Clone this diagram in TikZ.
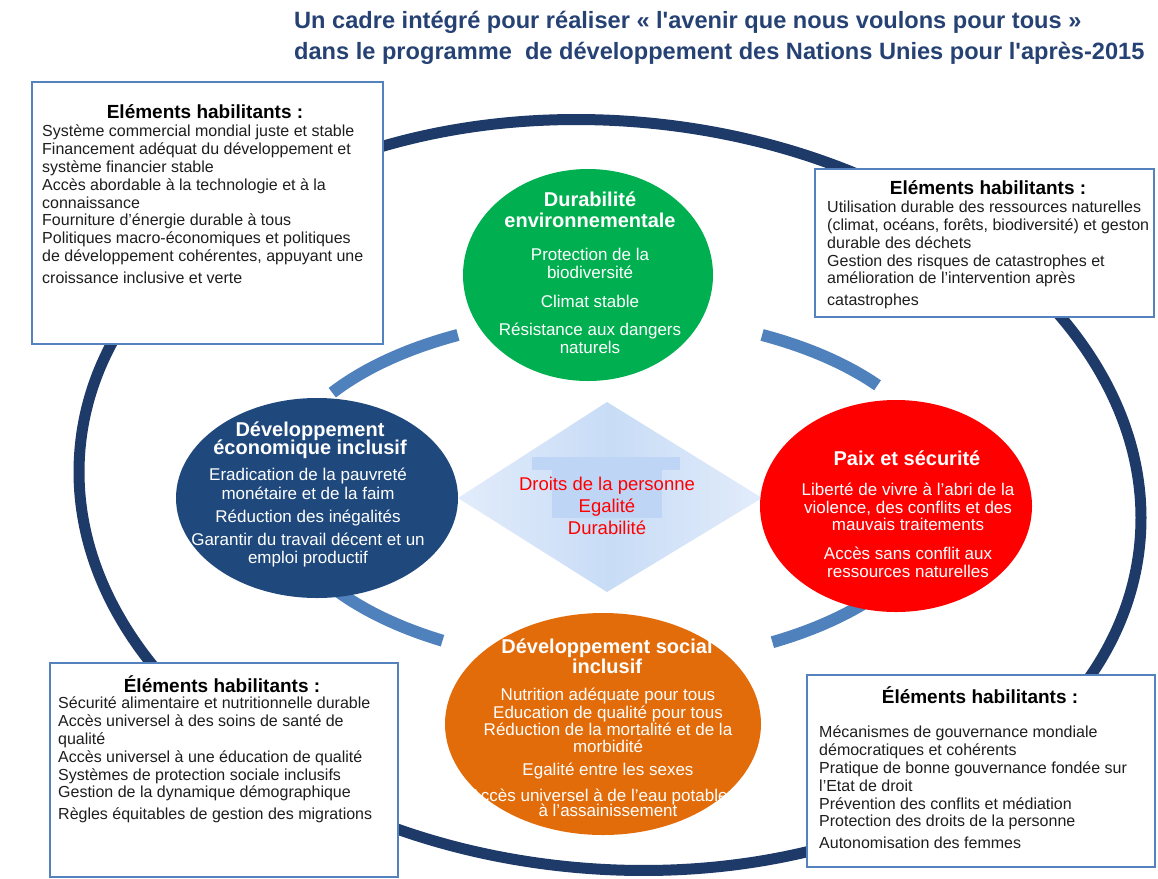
\documentclass[tikz,border=0pt]{standalone}
\usepackage{fontspec}
\setmainfont{Liberation Sans}
\newfontfamily\titrefont{Liberation Sans}
\usetikzlibrary{positioning}
\usetikzlibrary{shapes.geometric}

\definecolor{ringnavy}{RGB}{30,58,104}
\definecolor{arcblue}{RGB}{79,129,189}
\definecolor{boxblue}{RGB}{84,130,190}
\definecolor{boxtext}{RGB}{30,30,30}
\definecolor{titleblue}{RGB}{38,66,116}
\definecolor{envgreen}{RGB}{0,176,80}
\definecolor{econavy}{RGB}{31,73,125}
\definecolor{peacered}{RGB}{255,0,0}
\definecolor{socorange}{RGB}{227,108,10}
\definecolor{diamondblue}{RGB}{200,220,246}
\definecolor{diamondpale}{RGB}{226,236,251}
\definecolor{diamondmid}{RGB}{191,213,246}

\begin{document}
\begin{tikzpicture}[x=1pt, y=-1pt,
  habbox/.style={draw=boxblue, line width=2pt, fill=white},
  habtitle/.style={font=\fontsize{19}{21}\selectfont\bfseries, inner sep=0},
  habtext/.style={font=\fontsize{16}{17.8}\selectfont, text=boxtext, align=left, anchor=north west, inner sep=0},
  pilier/.style={ellipse, inner sep=0},
  piltitle/.style={font=\fontsize{20}{21}\selectfont\bfseries, text=white, align=center, anchor=north, inner sep=0},
  piltext/.style={font=\fontsize{17}{17.5}\selectfont, text=white, align=center, anchor=north, inner sep=0}]

\useasboundingbox (0,0) rectangle (1158,878);
\fill[white] (0,0) rectangle (1158,878);

% title
\node[font=\titrefont\fontsize{23.6}{31}\selectfont\bfseries, text=titleblue, align=left, anchor=north west, inner sep=0] (titre) at (294,11)
{Un cadre intégré pour réaliser « l'avenir que nous voulons pour tous »\\
dans le programme\ \ de développement des Nations Unies pour l'après-2015};

% outer ring
\draw[ringnavy, line width=11pt, rotate around={-5:(610,495)}] (610,495) ellipse [x radius=532, y radius=374];

% inner ring pieces
{
\draw[arcblue, line width=12pt] (610,490) ++(214:335 and 174) arc[start angle=214, end angle=243, x radius=335, y radius=174];
\draw[arcblue, line width=12pt] (610,490) ++(297:335 and 174) arc[start angle=297, end angle=323, x radius=335, y radius=174];
\draw[arcblue, line width=12pt] (610,490) ++(120:335 and 174) arc[start angle=120, end angle=146, x radius=335, y radius=174];
\draw[arcblue, line width=12pt] (610,490) ++(35:335 and 174) arc[start angle=35, end angle=61, x radius=335, y radius=174];
}

% centre diamond
\shade[left color=diamondpale, right color=diamondpale, middle color=diamondblue] (458,498) -- (607,402) -- (762,498) -- (607,592) -- cycle;
\fill[diamondmid] (532,457) rectangle (680,470);
\fill[diamondmid] (552,470) rectangle (662,518);

\node[font=\fontsize{18.5}{22}\selectfont, text=peacered, align=center, anchor=north, inner sep=0] (valeurs) at (607,477)
{Droits de la personne\\ Egalité\\ Durabilité};

% the four pillars
\node[pilier, fill=envgreen, minimum width=250, minimum height=212] (env) at (588,275) {};
\node[pilier, fill=econavy, minimum width=282, minimum height=200] (eco) at (317,498) {};
\node[pilier, fill=peacered, minimum width=272, minimum height=212] (paix) at (896,506) {};
\node[pilier, fill=socorange, minimum width=316, minimum height=222] (soc) at (603,724) {};

\node[piltitle] (env title) at (590,192) {Durabilité\\ environnementale};
\node[piltext] (env items) at (590,248) {Protection de la\\ biodiversité\\[12pt] Climat stable\\[10.5pt] Résistance aux dangers\\ naturels};

\node[piltitle] (eco title) at (310,422) {Développement\\[-3pt] économique inclusif};
\node[piltext, font=\fontsize{17}{18.5}\selectfont] (eco items) at (308,468) {Eradication de la pauvreté\\ monétaire et de la faim\\[4.5pt] Réduction des inégalités\\[4.5pt] Garantir du travail décent et un\\ emploi productif};

\node[piltitle, anchor=center] (paix title) at (907,458) {Paix et sécurité};
\node[piltext] (paix items) at (908,483) {Liberté de vivre à l'abri de la\\ violence, des conflits et des\\ mauvais traitements\\[11.5pt] Accès sans conflit aux\\ ressources naturelles};

\node[piltitle, font=\fontsize{20}{20}\selectfont\bfseries] (soc title) at (607,639) {Développement social\\ inclusif};
\node[piltext, font=\fontsize{17}{17.3}\selectfont] (soc items) at (608,688) {Nutrition adéquate pour tous\\ Education de qualité pour tous\\ Réduction de la mortalité et de la\\ morbidité\\[6pt] Egalité entre les sexes\\[8pt] Accès universel à de l'eau potable et\\[-2pt] à l'assainissement};

% enabling elements boxes
{
\draw[habbox] (32,82) rectangle (383,344);
\node[habtitle] (hg title) at (205,112) {Eléments habilitants :};
\node[habtext] (hg items) at (42,125) {Système commercial mondial juste et stable\\ Financement adéquat du développement et\\ système financier stable\\ Accès abordable à la technologie et à la\\ connaissance\\ Fourniture d’énergie durable à tous\\ Politiques macro-économiques et politiques\\ de développement cohérentes, appuyant une\\[4pt] croissance inclusive et verte};

\draw[habbox] (815,169) rectangle (1154,317);
\node[habtitle] (hd title) at (988,188) {Eléments habilitants :};
\node[habtext] (hd items) at (827,201) {Utilisation durable des ressources naturelles\\ (climat, océans, forêts, biodiversité) et geston\\ durable des déchets\\ Gestion des risques de catastrophes et\\ amélioration de l'intervention après\\[4pt] catastrophes};

\draw[habbox] (50,663) rectangle (398,877);
\node[habtitle] (bg title) at (222,684) {Éléments habilitants :};
\node[habtext] (bg items) at (58,697) {Sécurité alimentaire et nutritionnelle durable\\ Accès universel à des soins de santé de\\ qualité\\ Accès universel à une éducation de qualité\\ Systèmes de protection sociale inclusifs\\ Gestion de la dynamique démographique\\[4pt] Règles équitables de gestion des migrations};

\draw[habbox] (807,675) rectangle (1155,867);
\node[habtitle] (bd title) at (980,695) {Éléments habilitants :};
\node[habtext] (bd items) at (819,726) {Mécanismes de gouvernance mondiale\\ démocratiques et cohérents\\ Pratique de bonne gouvernance fondée sur\\ l'Etat de droit\\ Prévention des conflits et médiation\\ Protection des droits de la personne\\[4pt] Autonomisation des femmes};
}

\end{tikzpicture}
\end{document}
